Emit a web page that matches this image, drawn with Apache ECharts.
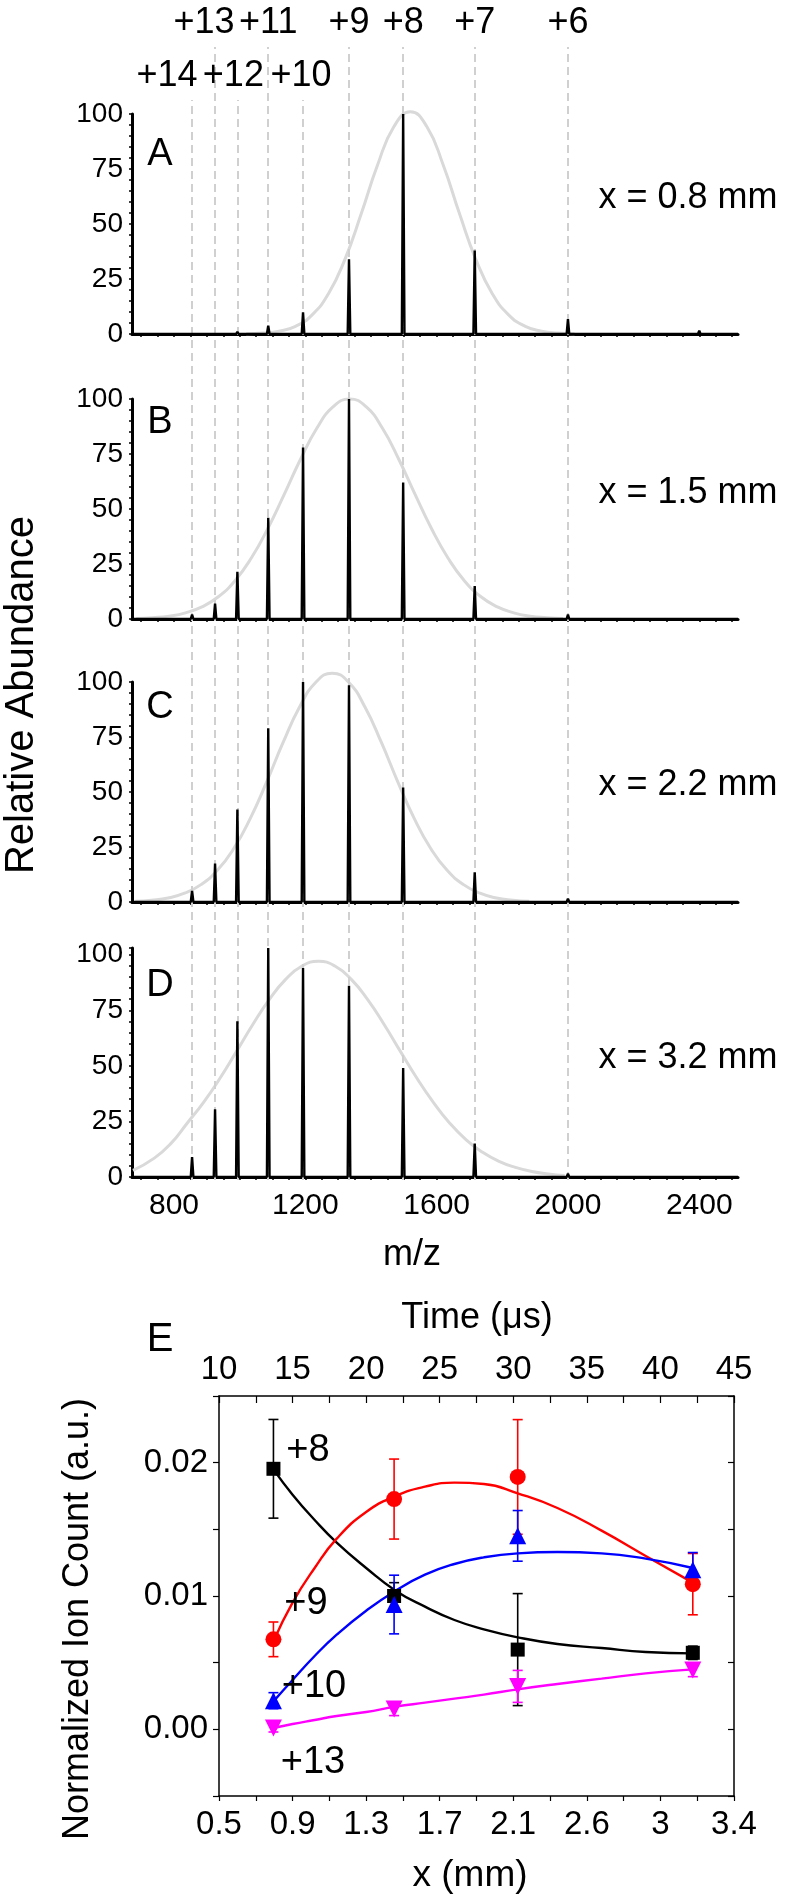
<!DOCTYPE html>
<html>
<head>
<meta charset="utf-8">
<script src="https://cdn.jsdelivr.net/npm/echarts/dist/echarts.min.js"></script>
<style>
html,body{margin:0;padding:0;background:#fff;}
#chart{width:799px;height:1903px;}
</style>
</head>
<body>
<div id="chart"></div>
<script>
// ---------------- DATA ----------------
// m/z of the charge-state peaks (+14 ... +6, +5)
const mzPeaks = [855, 925, 993, 1087, 1193, 1333, 1498, 1716, 2000, 2400];
// relative abundances of those peaks in each spectrum
const heightsA = [0, 0, 1, 3.8, 9.8, 34, 100, 38, 6.8, 1.5];
const heightsB = [2, 7, 21.5, 46, 78, 100, 62, 15, 2, 0];
const heightsC = [5, 17.5, 42, 79, 100, 98.5, 52, 13.5, 1.5, 0];
const heightsD = [9, 30.5, 70, 103, 94, 86, 49, 15, 1.5, 0.8];
// envelope (grey) curves, [m/z, abundance]
const gaussA = [[1020,0.1],[1070,0.4],[1120,1.3],[1170,3.5],[1220,8.6],[1270,18.2],[1320,33.7],[1370,54.5],[1420,76.8],[1470,94.3],[1520,101],[1570,94.3],[1620,76.8],[1670,54.5],[1720,33.7],[1770,18.2],[1820,8.6],[1870,3.5],[1920,1.3],[1970,0.4],[2020,0.1]];
const gaussB = [[685,0.2],[735,0.6],[785,1.3],[835,2.8],[885,5.5],[935,10.1],[985,17.3],[1035,27.6],[1085,40.9],[1135,56.4],[1185,72.5],[1235,86.7],[1285,96.5],[1335,100],[1385,96.5],[1435,86.7],[1485,72.5],[1535,56.4],[1585,40.9],[1635,27.6],[1685,17.3],[1735,10.1],[1785,5.5],[1835,2.8],[1885,1.3],[1935,0.6],[1985,0.2]];
const gaussC = [[682,0.3],[732,0.8],[782,1.8],[832,4.0],[882,7.9],[932,14.4],[982,24.3],[1032,37.9],[1082,54.5],[1132,72.4],[1182,88.5],[1232,99.9],[1282,104],[1332,99.9],[1382,88.5],[1432,72.4],[1482,54.5],[1532,37.9],[1582,24.3],[1632,14.4],[1682,7.9],[1732,4.0],[1782,1.8],[1832,0.8],[1882,0.3]];
const gaussD = [[675,3],[740,8.5],[790,15],[840,24.2],[890,33.6],[940,44.4],[990,56.4],[1040,68.6],[1090,79.8],[1140,88.9],[1190,94.9],[1240,97],[1290,94.9],[1340,88.9],[1390,79.8],[1440,68.6],[1490,56.4],[1540,44.4],[1590,33.6],[1640,24.2],[1690,16.7],[1740,11.1],[1790,7.0],[1840,4.3],[1890,2.5],[1940,1.4],[1990,0.7]];
// charge labels above the dashed guide lines
const topRowCharges = ['+13', '+11', '+9', '+8', '+7', '+6'];
const topRowMz = [925, 1087, 1333, 1498, 1716, 2000];
const lowRowCharges = ['+14', '+12', '+10'];
const lowRowMz = [855, 993, 1193];
const panelLetters = ['A', 'B', 'C', 'D'];
const panelDistances = ['x = 0.8 mm', 'x = 1.5 mm', 'x = 2.2 mm', 'x = 3.2 mm'];
const mzTickLabels = [800, 1200, 1600, 2000, 2400];
const abundanceTicks = [0, 25, 50, 75, 100];

// Panel E
const timeTicks = [10, 15, 20, 25, 30, 35, 40, 45];
const xmmLabels = ['0.5', '0.9', '1.3', '1.7', '2.1', '2.6', '3', '3.4'];
const pointTimes = [13.7, 21.9, 30.3, 42.2];
const ion8 = [0.01954, 0.0100, 0.00598, 0.00574];
const ion8Err = [0.0037, 0.0010, 0.0042, 0.0005];
const ion9 = [0.00675, 0.01727, 0.01893, 0.01089];
const ion9Err = [0.0013, 0.0030, 0.0043, 0.0023];
const ion10 = [0.00215, 0.00936, 0.01451, 0.01196];
const ion10Err = [0.0006, 0.0022, 0.0019, 0.0013];
const ion13 = [0.0001, 0.00153, 0.00322, 0.00445];
const ion13Err = [0.0003, 0.0005, 0.0012, 0.0005];
// fitted curves
const fitTimes = [13.7, 15, 16.5, 18, 20, 22, 24, 26, 28, 30.3, 33, 36, 39, 42.2];
const fit8 = [0.0195, 0.0176, 0.0157, 0.0140, 0.0121, 0.0104, 0.0092, 0.0082, 0.0075, 0.0069, 0.0064, 0.0061, 0.0058, 0.0057];
const fit9 = [0.0066, 0.0095, 0.0121, 0.0143, 0.0163, 0.0175, 0.0182, 0.0185, 0.0184, 0.0177, 0.0166, 0.0149, 0.0130, 0.0110];
const fit10 = [0.0021, 0.0037, 0.0055, 0.0071, 0.0089, 0.0104, 0.0116, 0.0124, 0.0129, 0.0132, 0.0133, 0.0132, 0.0128, 0.0121];
const fit13 = [0.0001, 0.0004, 0.0007, 0.0010, 0.0013, 0.0017, 0.0020, 0.0023, 0.0026, 0.0030, 0.0034, 0.0038, 0.0042, 0.0045];

// ---------------- CHART ----------------
const FONT = 'Liberation Sans, Arial, Helvetica, sans-serif';
const MZ_MIN = 672, MZ_MAX = 2518;
const heights = [heightsA, heightsB, heightsC, heightsD];
const gauss = [gaussA, gaussB, gaussC, gaussD];
const panelTop = [114, 399, 682, 948];
const panelBottom = [1903 - 334, 1903 - 619, 1903 - 902, 1903 - 1177];
const panelMax = [100, 100, 100, 103];
const letterY = [155, 423, 708, 986];
const distY = [198, 493, 785, 1058];
// horizontal nudges of crowded charge labels (px)
const labelNudge = { '+14': -25, '+13': -11, '+12': -4, '+10': -2 };

const mzMinorTicks = [];
for (let v = 700; v <= 2500; v += 50) mzMinorTicks.push(v);

function spectrum(h) {
  const pts = [[MZ_MIN, 0]];
  mzPeaks.forEach((m, i) => { pts.push([m - 4, 0], [m, h[i]], [m + 4, 0]); });
  pts.push([MZ_MAX, 0]);
  return pts;
}

const grids = [], xAxes = [], yAxes = [], series = [], graphics = [];

for (let i = 0; i < 4; i++) {
  grids.push({ left: 132, right: 61, top: panelTop[i], bottom: panelBottom[i], outerBoundsMode: 'none' });
  xAxes.push({
    gridIndex: i, type: 'value', min: MZ_MIN, max: MZ_MAX,
    axisLine: { show: true, onZero: false, lineStyle: { color: '#000', width: 3 } },
    axisTick: { show: true, customValues: mzMinorTicks, length: 3, lineStyle: { color: '#000', width: 1.5 } },
    axisLabel: { show: i === 3, customValues: mzTickLabels, fontSize: 30, color: '#000', margin: 14, fontFamily: FONT,
      formatter: v => String(Math.round(v)) },
    splitLine: { show: false }
  });
  yAxes.push({
    gridIndex: i, type: 'value', min: 0, max: panelMax[i], interval: 5,
    axisLine: { show: true, onZero: false, lineStyle: { color: '#000', width: 3 } },
    axisTick: { show: true, length: 3, lineStyle: { color: '#000', width: 1.5 } },
    axisLabel: { interval: 0, fontSize: 28, color: '#000', margin: 9, fontFamily: FONT,
      formatter: v => abundanceTicks.indexOf(v) >= 0 ? String(v) : '' },
    splitLine: { show: false }
  });
  series.push({
    type: 'line', xAxisIndex: i, yAxisIndex: i, data: gauss[i], smooth: true, showSymbol: false,
    symbol: 'none', clip: false, lineStyle: { color: '#d9d9d9', width: 3 }, z: 3, silent: true
  });
  series.push({
    type: 'line', xAxisIndex: i, yAxisIndex: i, data: spectrum(heights[i]), showSymbol: false,
    symbol: 'none', clip: false, lineStyle: { color: '#000', width: 2.4 }, z: 5, silent: true
  });
  graphics.push({ type: 'text', x: 160, y: letterY[i], style: { text: panelLetters[i], fontSize: 38, fontFamily: FONT, fill: '#000', align: 'center', verticalAlign: 'middle' } });
  graphics.push({ type: 'text', x: 688, y: distY[i], style: { text: panelDistances[i], fontSize: 36, fontFamily: FONT, fill: '#000', align: 'center', verticalAlign: 'middle' } });
}

// overlay grids for dashed guide lines + charge labels
const guideTops = [47, 100];
const guideMz = [topRowMz, lowRowMz];
const guideLab = [topRowCharges, lowRowCharges];
for (let k = 0; k < 2; k++) {
  const gi = 4 + k;
  grids.push({ left: 132, right: 61, top: guideTops[k], bottom: 1903 - 1180, outerBoundsMode: 'none' });
  xAxes.push({ gridIndex: gi, type: 'value', min: MZ_MIN, max: MZ_MAX, show: false });
  yAxes.push({ gridIndex: gi, type: 'value', min: 0, max: 1, show: false });
  series.push({
    type: 'line', xAxisIndex: gi, yAxisIndex: gi, data: guideMz[k].map(m => [m, 0]),
    showSymbol: false, symbol: 'none', lineStyle: { opacity: 0 }, silent: true, z: 1,
    markLine: {
      silent: true, symbol: ['none', 'none'], animation: false,
      lineStyle: { type: [8, 5], color: '#d0d0d0', width: 2 },
      label: { show: true, position: 'end', formatter: '{b}', fontSize: 36, color: '#000', distance: 6, fontFamily: FONT },
      emphasis: { disabled: true },
      data: guideMz[k].map((m, i) => ({
        xAxis: m, name: guideLab[k][i],
        label: { offset: [labelNudge[guideLab[k][i]] || 0, 0] }
      }))
    }
  });
}

// Panel E
grids.push({ left: 219, right: 65, top: 1396, bottom: 107, outerBoundsMode: 'none' });
const EG = 6;
xAxes.push({
  gridIndex: EG, type: 'value', position: 'bottom', min: 10, max: 45, interval: 5,
  axisLine: { onZero: false, lineStyle: { color: '#000', width: 1.5 } },
  axisTick: { inside: false, length: 5, lineStyle: { color: '#000', width: 1.2 } },
  minorTick: { show: true, splitNumber: 2, length: 5, lineStyle: { color: '#000', width: 1.2 } },
  axisLabel: { interval: 0, fontSize: 33, color: '#000', margin: 12, fontFamily: FONT,
    formatter: v => xmmLabels[timeTicks.indexOf(Math.round(v))] || '' },
  splitLine: { show: false }
});
xAxes.push({
  gridIndex: EG, type: 'value', position: 'top', min: 10, max: 45, interval: 5,
  axisLine: { onZero: false, lineStyle: { color: '#000', width: 1.5 } },
  axisTick: { inside: true, length: 7, lineStyle: { color: '#000', width: 1.2 } },
  minorTick: { show: true, splitNumber: 2, length: 7, lineStyle: { color: '#000', width: 1.2 } },
  axisLabel: { interval: 0, fontSize: 33, color: '#000', margin: 10, fontFamily: FONT },
  splitLine: { show: false }
});
yAxes.push({
  gridIndex: EG, type: 'value', position: 'left', min: -0.005, max: 0.025, interval: 0.005,
  axisLine: { onZero: false, lineStyle: { color: '#000', width: 1.5 } },
  axisTick: { inside: false, length: 6, lineStyle: { color: '#000', width: 1.2 } },
  axisLabel: { interval: 0, fontSize: 33, color: '#000', margin: 11, fontFamily: FONT,
    formatter: v => { const k = Math.round(v * 1000); return (k % 10 === 0) ? v.toFixed(2) : ''; } },
  splitLine: { show: false }
});
yAxes.push({
  gridIndex: EG, type: 'value', position: 'right', min: -0.005, max: 0.025, interval: 0.005,
  axisLine: { onZero: false, lineStyle: { color: '#000', width: 1.5 } },
  axisTick: { inside: true, length: 6, lineStyle: { color: '#000', width: 1.2 } },
  axisLabel: { show: false }, splitLine: { show: false }
});

function pairs(xs, ys) { return xs.map((x, i) => [x, ys[i]]); }
function errBars(vals, errs, color) {
  return {
    type: 'custom', xAxisIndex: 6, yAxisIndex: 6, z: 6, silent: true,
    data: pointTimes.map((t, i) => [t, vals[i], errs[i]]),
    encode: { x: 0, y: 1 },
    renderItem: (params, api) => {
      const x = api.value(0), y = api.value(1), e = api.value(2);
      const p1 = api.coord([x, y + e]), p2 = api.coord([x, y - e]);
      const w = 5;
      const st = { stroke: color, lineWidth: 1.6 };
      return { type: 'group', children: [
        { type: 'line', shape: { x1: p1[0], y1: p1[1], x2: p2[0], y2: p2[1] }, style: st },
        { type: 'line', shape: { x1: p1[0] - w, y1: p1[1], x2: p1[0] + w, y2: p1[1] }, style: st },
        { type: 'line', shape: { x1: p2[0] - w, y1: p2[1], x2: p2[0] + w, y2: p2[1] }, style: st }
      ] };
    }
  };
}
const ionSets = [
  { fit: fit8, vals: ion8, errs: ion8Err, color: '#000000', symbol: 'rect', size: 14, rot: 0 },
  { fit: fit9, vals: ion9, errs: ion9Err, color: '#ff0000', symbol: 'circle', size: 16, rot: 0 },
  { fit: fit10, vals: ion10, errs: ion10Err, color: '#0000ff', symbol: 'triangle', size: 17, rot: 0 },
  { fit: fit13, vals: ion13, errs: ion13Err, color: '#ff00ff', symbol: 'triangle', size: 17, rot: 180 }
];
ionSets.forEach(s => {
  series.push({ type: 'line', xAxisIndex: 6, yAxisIndex: 6, data: pairs(fitTimes, s.fit), smooth: 0.5,
    showSymbol: false, symbol: 'none', lineStyle: { color: s.color, width: 2.4 }, z: 4, silent: true });
});
ionSets.forEach(s => { series.push(errBars(s.vals, s.errs, s.color)); });
ionSets.forEach(s => {
  series.push({ type: 'scatter', xAxisIndex: 6, yAxisIndex: 6, data: pairs(pointTimes, s.vals),
    symbol: s.symbol, symbolSize: s.size, symbolRotate: s.rot, itemStyle: { color: s.color, opacity: 1 }, z: 8, silent: true });
});

// text annotations
graphics.push({ type: 'text', x: 22, y: 695, rotation: Math.PI / 2, style: { text: 'Relative Abundance', fontSize: 40, fontFamily: FONT, fill: '#000', align: 'center', verticalAlign: 'middle' } });
graphics.push({ type: 'text', x: 412, y: 1255, style: { text: 'm/z', fontSize: 36, fontFamily: FONT, fill: '#000', align: 'center', verticalAlign: 'middle' } });
graphics.push({ type: 'text', x: 160, y: 1340, style: { text: 'E', fontSize: 40, fontFamily: FONT, fill: '#000', align: 'center', verticalAlign: 'middle' } });
graphics.push({ type: 'text', x: 477, y: 1318, style: { text: 'Time (\u03bcs)', fontSize: 36, fontFamily: FONT, fill: '#000', align: 'center', verticalAlign: 'middle' } });
graphics.push({ type: 'text', x: 470, y: 1876, style: { text: 'x (mm)', fontSize: 37, fontFamily: FONT, fill: '#000', align: 'center', verticalAlign: 'middle' } });
graphics.push({ type: 'text', x: 78, y: 1619, rotation: Math.PI / 2, style: { text: 'Normalized Ion Count (a.u.)', fontSize: 36, fontFamily: FONT, fill: '#000', align: 'center', verticalAlign: 'middle' } });
const ionLabels = [['+8', 308, 1451], ['+9', 306, 1604], ['+10', 314, 1687], ['+13', 313, 1763]];
ionLabels.forEach(l => graphics.push({ type: 'text', x: l[1], y: l[2], z: 20, style: { text: l[0], fontSize: 38, fontFamily: FONT, fill: '#000', align: 'center', verticalAlign: 'middle' } }));

const chart = echarts.init(document.getElementById('chart'), null, { renderer: 'canvas', width: 799, height: 1903 });
chart.setOption({
  backgroundColor: '#ffffff',
  animation: false,
  textStyle: { fontFamily: FONT, color: '#000' },
  grid: grids, xAxis: xAxes, yAxis: yAxes, series: series,
  graphic: { elements: graphics }
});
</script>
</body>
</html>
